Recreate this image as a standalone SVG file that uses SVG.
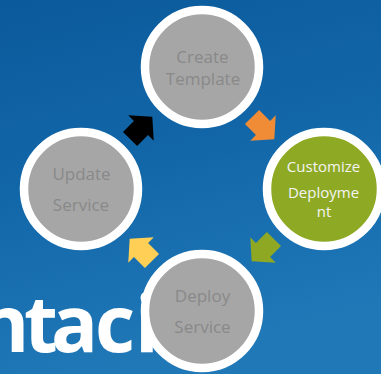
<svg xmlns="http://www.w3.org/2000/svg" width="381" height="374" viewBox="0 0 381 374">
  <defs>
    <linearGradient id="bg" x1="0" y1="0" x2="0.25" y2="1">
      <stop offset="0" stop-color="#0b5a9b"/>
      <stop offset="0.5" stop-color="#1267a9"/>
      <stop offset="1" stop-color="#2078b7"/>
    </linearGradient>
    <!-- block arrow pointing along +x, centred on the head base -->
    <path id="arrow" d="M-15.5,-10 L0,-10 L0,-18 L16,0 L0,18 L0,10 L-15.5,10 Z"/>
    <style>
      .ring { stroke: #ffffff; stroke-width: 8.5; }
      .grey { fill: #a6a6a6; }
      .green { fill: #8eaa24; }
      .lbl { font-family: "Open Sans", "Noto Sans", "DejaVu Sans", sans-serif; font-size: 17px; fill: #898989; text-anchor: middle; }
      .lbl-w { font-family: "Open Sans", "Noto Sans", "DejaVu Sans", sans-serif; font-size: 15px; fill: #f4f4f4; text-anchor: middle; }
      .title { font-family: "Open Sans", "Noto Sans", "DejaVu Sans", sans-serif; font-weight: bold; font-size: 78px; fill: #ffffff; }
    </style>
  </defs>

  <!-- backdrop -->
  <rect x="0" y="0" width="381" height="374" fill="url(#bg)"/>

  <!-- slide title running behind the cycle -->
  <text class="title" x="-22 24 51 95 135" y="352">ntaci</text>

  <!-- connectors -->
  <g id="connectors">
    <use href="#arrow" fill="#f08b36" transform="translate(263,128) rotate(45)"/>
    <use href="#arrow" fill="#8ea823" transform="translate(263,250) rotate(135)"/>
    <use href="#arrow" fill="#ffd055" transform="translate(141,250) rotate(-135)"/>
    <use href="#arrow" fill="#000000" transform="translate(141,128) rotate(-45)"/>
  </g>

  <g id="create-template">
    <circle class="ring grey" cx="202" cy="67" r="57"/>
    <text class="lbl" x="202.5" y="63">Create</text>
    <text class="lbl" x="203" y="85">Template</text>
  </g>

  <g id="customize-deployment">
    <circle class="ring green" cx="324" cy="189" r="57"/>
    <text class="lbl-w" x="323.5" y="172">Customize</text>
    <text class="lbl-w" x="323.5" y="198">Deployme</text>
    <text class="lbl-w" x="324" y="217">nt</text>
  </g>

  <g id="deploy-service">
    <circle class="ring grey" cx="202" cy="311" r="57"/>
    <text class="lbl" x="202.5" y="302">Deploy</text>
    <text class="lbl" x="202.5" y="333">Service</text>
  </g>

  <g id="update-service">
    <circle class="ring grey" cx="81" cy="189" r="57"/>
    <text class="lbl" x="81.5" y="180">Update</text>
    <text class="lbl" x="81" y="211">Service</text>
  </g>
</svg>
